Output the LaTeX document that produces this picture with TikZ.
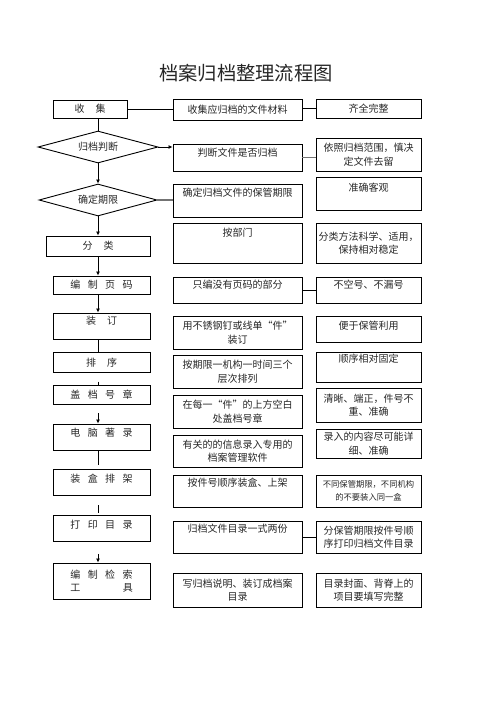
\documentclass[tikz,border=0pt]{standalone}
\usepackage{fontspec}
\setmainfont{Noto Sans CJK SC}
\usetikzlibrary{calc,arrows.meta,shapes.geometric}
\newcommand\gp{\hspace{0.75em}}
\newcommand\gpw{\hspace{1.1em}}

\begin{document}
\begin{tikzpicture}[x=1pt,y=-1pt,
		box/.style={draw, line width=0.9pt, inner sep=2pt, align=center, text=black!85,
			font=\fontsize{10pt}{13.5pt}\selectfont},
		lift/.style={text height=8pt, text depth=#1},
		dia/.style={draw, diamond, line width=0.9pt, inner sep=0pt, aspect=3.75, text=black!85,
			font=\fontsize{10pt}{12pt}\selectfont},
		link/.style={line width=0.9pt},
		glink/.style={line width=1.3pt, black!55},
		arr/.style={line width=0.9pt, -{Latex[length=4pt,width=4pt]}}]
				\useasboundingbox (0,0) rectangle (496,702);
				
				\node[text=black!85, font=\fontsize{19.3pt}{20pt}\selectfont] (title) at (246,73) {档案归档整理流程图};
				
				% left column
				\coordinate (spine) at (98,0);
				\node[box, minimum width=74pt, minimum height=18pt] (c1) at (90,109) {收\gpw 集};
				\node[dia, minimum width=120pt, minimum height=32pt] (d1) at (98,147) {归档判断};
				\node[dia, minimum width=118pt, minimum height=32pt] (d2) at (98,200) {确定期限};
				\node[box, minimum width=104pt, minimum height=20pt] (l4) at (98,246) {分\gpw 类};
				\node[box, minimum width=97pt, minimum height=18pt] (l5) at (101.5,285) {编\gp 制\gp 页\gp 码};
				\node[box, lift=10.4pt, minimum width=97pt, minimum height=26pt] (l6) at (101.5,326) {装\gpw 订};
				\node[box, minimum width=97pt, minimum height=20.5pt] (l7) at (101.5,362.5) {排\gpw 序};
				\node[box, minimum width=97pt, minimum height=19pt] (l8) at (101.5,394.5) {盖\gp 档\gp 号\gp 章};
				\node[box, lift=8.4pt, minimum width=97pt, minimum height=26pt] (l9) at (101.5,437) {电\gp 脑\gp 著\gp 录};
				\node[box, lift=6.4pt, minimum width=97pt, minimum height=26pt] (l10) at (101.5,482) {装\gp 盒\gp 排\gp 架};
				\node[box, lift=6.4pt, minimum width=97pt, minimum height=26pt] (l11) at (101.5,528) {打\gp 印\gp 目\gp 录};
				\node[box, minimum width=97pt, minimum height=36pt] (l12) at (101.5,581) {编\gp 制\gp 检\gp 索\\工\hspace{4.25em}具};
				
				% middle column
				\node[box, minimum width=129pt, minimum height=21pt] (m1) at (237.5,109.5) {收集应归档的文件材料};
				\node[box, lift=9.4pt, minimum width=129pt, minimum height=27pt] (m2) at (237.5,157.5) {判断文件是否归档};
				\node[box, lift=15.4pt, minimum width=129pt, minimum height=33pt] (m3) at (237.5,200.5) {确定归档文件的保管期限};
				\node[box, lift=20.4pt, minimum width=129pt, minimum height=40pt] (m4) at (237.5,243) {按部门};
				\node[box, lift=10.4pt, minimum width=129pt, minimum height=26pt] (m5) at (237.5,290) {只编没有页码的部分};
				\node[box, minimum width=129pt, minimum height=33pt] (m6) at (237.5,332.5) {用不锈钢钉或线单“件”\\装订};
				\node[box, minimum width=129pt, minimum height=33pt] (m7) at (237.5,371.5) {按期限一机构一时间三个\\层次排列};
				\node[box, minimum width=129pt, minimum height=33pt] (m8) at (237.5,411.5) {在每一“件”的上方空白\\处盖档号章};
				\node[box, minimum width=129pt, minimum height=32pt] (m9) at (237.5,451) {有关的的信息录入专用的\\档案管理软件};
				\node[box, lift=16.4pt, minimum width=129pt, minimum height=32pt] (m10) at (237.5,491) {按件号顺序装盒、上架};
				\node[box, lift=16.4pt, minimum width=129pt, minimum height=32pt] (m11) at (237.5,537) {归档文件目录一式两份};
				\node[box, minimum width=129pt, minimum height=34pt] (m12) at (237.5,590) {写归档说明、装订成档案\\目录};
				
				% right column
				\node[box, minimum width=105pt, minimum height=19pt] (r1) at (368.5,108.5) {齐全完整};
				\node[box, minimum width=105pt, minimum height=33pt] (r2) at (368.5,154.5) {依照归档范围，慎决\\定文件去留};
				\node[box, lift=11.4pt, minimum width=105pt, minimum height=33pt] (r3) at (368.5,193.5) {准确客观};
				\node[box, minimum width=105pt, minimum height=40pt] (r4) at (368.5,243) {分类方法科学、适用，\\保持相对稳定};
				\node[box, lift=10.4pt, minimum width=105pt, minimum height=26pt] (r5) at (368.5,290) {不空号、不漏号};
				\node[box, lift=6.4pt, minimum width=105pt, minimum height=26pt] (r6) at (368.5,329) {便于保管利用};
				\node[box, lift=18pt, minimum width=105pt, minimum height=30pt] (r7) at (368.5,367) {顺序相对固定};
				\node[box, minimum width=105pt, minimum height=34pt] (r8) at (368.5,405) {清晰、端正，件号不\\重、准确};
				\node[box, minimum width=105pt, minimum height=29pt] (r9) at (368.5,443.5) {录入的内容尽可能详\\细、准确};
				\node[box, minimum width=105pt, minimum height=32pt, font=\fontsize{8.3pt}{13pt}\selectfont] (r10) at (368.5,491) {不同保管期限，不同机构\\的不要装入同一盒};
				\node[box, minimum width=105pt, minimum height=32pt] (r11) at (368.5,537) {分保管期限按件号顺\\序打印归档文件目录};
				\node[box, minimum width=105pt, minimum height=34pt] (r12) at (368.5,590) {目录封面、背脊上的\\项目要填写完整};
				
				% down the left column
				\draw[link] (spine |- c1.south) -- (d1.north);
				\draw[arr] (d1.south) -- (d2.north);
				\draw[arr] (d2.south) -- (l4.north);
				\draw[arr] (spine |- l4.south) -- (spine |- l5.north);
				\draw[arr] (spine |- l5.south) -- (spine |- l6.north);
				\draw[link] (spine |- l6.south) -- (spine |- l7.north);
				\draw[link, shorten <=8.5pt] (spine |- l7.south) -- (spine |- l8.north);
				\draw[arr, shorten <=9pt] (spine |- l8.south) -- (spine |- l9.north);
				\draw[link, shorten >=4pt] (spine |- l9.south) -- (spine |- l10.north);
				\draw[link, shorten <=10pt, shorten >=2pt] (spine |- l10.south) -- (spine |- l11.north);
				\draw[arr, shorten <=12.5pt] (spine |- l11.south) -- (spine |- l12.north);
				
				% across the rows
				\draw[link] (c1.east) -- (c1.east -| m1.west);
				\draw[link] (r1.west -| m1.east) -- (r1.west);
				\draw[arr] (d1.east) -- (d1.east -| m2.west);
				\draw[glink] (m2.east) -- (m2.east -| r2.west);
				\draw[glink] (d2.east) -- (d2.east -| m3.west);
				\draw[glink] ($(m3.east)+(0,3.5)$) -- ($(m3.east)+(0,3.5)$ -| r3.west);
				\draw[glink] ($(l4.east)+(0,4)$) -- ($(l4.east)+(0,4)$ -| m4.west);
				\draw[glink] ($(m4.east)+(0,6)$) -- ($(m4.east)+(0,6)$ -| r4.west);
				\draw[link] ($(l5.east)+(0,4)$) -- ($(l5.east)+(0,4)$ -| m5.west);
				\draw[link] (m5.east) -- (m5.east -| r5.west);
				\draw[glink] ($(l6.east)+(0,10)$) -- ($(l6.east)+(0,10)$ -| m6.west);
				\draw[link] ($(m6.east)+(0,-3.5)$) -- ($(m6.east)+(0,-3.5)$ -| r6.west);
				\draw[link] ($(l7.south east)+(0,3.5)$) -- ($(l7.south east)+(0,3.5)$ -| m7.west);
				\draw[glink] ($(m7.east)+(0,-3.5)$) -- ($(m7.east)+(0,-3.5)$ -| r7.west);
				\draw[link] ($(l8.south east)+(0,4)$) -- ($(l8.south east)+(0,4)$ -| m8.west);
				\draw[link] ($(m8.east)+(0,-3.5)$) -- ($(m8.east)+(0,-3.5)$ -| r8.west);
				\draw[glink, line width=2pt] ($(l9.east)+(0,10.5)$) -- ($(l9.east)+(0,10.5)$ -| m9.west);
				\draw[link] ($(m9.east)+(0,-3.3)$) -- ($(m9.east)+(0,-3.3)$ -| r9.west);
				\draw[link] ($(l10.east)+(0,7)$) -- ($(l10.east)+(0,7)$ -| m10.west);
				\draw[link] ($(m10.east)+(0,-2)$) -- ($(m10.east)+(0,-2)$ -| r10.west);
				\draw[link] ($(l11.east)+(0,8)$) -- ($(l11.east)+(0,8)$ -| m11.west);
				\draw[link] (m11.east) -- (m11.east -| r11.west);
				\draw[link] ($(l12.east)+(0,11)$) -- ($(l12.east)+(0,11)$ -| m12.west);
				\draw[link] ($(m12.east)+(0,2)$) -- ($(m12.east)+(0,2)$ -| r12.west);
			\end{tikzpicture}
\end{document}
